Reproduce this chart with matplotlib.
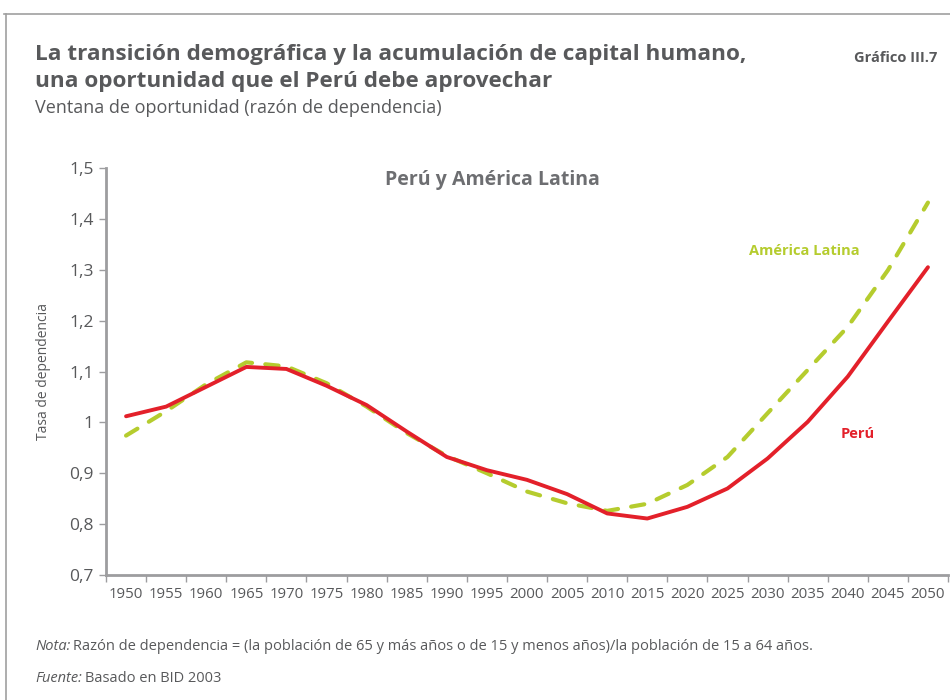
import matplotlib
matplotlib.use("Agg")
import matplotlib.pyplot as plt
from matplotlib.lines import Line2D
import numpy as np

years = [1950, 1955, 1960, 1965, 1970, 1975, 1980, 1985, 1990, 1995, 2000,
         2005, 2010, 2015, 2020, 2025, 2030, 2035, 2040, 2045, 2050]
peru = [1.012, 1.031, 1.070, 1.109, 1.105, 1.072, 1.034, 0.982, 0.932, 0.906, 0.887,
        0.859, 0.821, 0.811, 0.834, 0.870, 0.929, 1.001, 1.090, 1.198, 1.305]
america_latina = [0.974, 1.022, 1.075, 1.118, 1.110, 1.077, 1.031, 0.979, 0.934, 0.900, 0.864,
                  0.841, 0.826, 0.840, 0.877, 0.932, 1.018, 1.103, 1.188, 1.299, 1.432]
y_ticks = [0.7, 0.8, 0.9, 1.0, 1.1, 1.2, 1.3, 1.4, 1.5]
y_labels = ["0,7", "0,8", "0,9", "1", "1,1", "1,2", "1,3", "1,4", "1,5"]

plt.rcParams['font.family'] = ['Open Sans', 'DejaVu Sans']

GREY = '#58595b'
RED = '#e3202a'
GREEN = '#b5cc2e'
AXIS = '#9d9d9f'

fig = plt.figure(figsize=(9.5, 7), dpi=100)

# frame lines
fig.add_artist(Line2D([4/950, 1.0], [1-14/700, 1-14/700], transform=fig.transFigure, color='#a0a0a0', lw=1.2))
fig.add_artist(Line2D([6/950, 6/950], [0, 1-14/700], transform=fig.transFigure, color='#a0a0a0', lw=1.2))

fig.text(35/950, 1-60/700, "La transición demográfica y la acumulación de capital humano,",
         fontsize=16.2, fontweight='bold', color=GREY, va='baseline')
fig.text(35/950, 1-87/700, "una oportunidad que el Perú debe aprovechar",
         fontsize=16.2, fontweight='bold', color=GREY, va='baseline')
fig.text(35/950, 1-113/700, "Ventana de oportunidad (razón de dependencia)",
         fontsize=13, color=GREY, va='baseline')
fig.text(937/950, 1-62/700, "Gráfico III.7", fontsize=10.5, fontweight='bold', color=GREY,
         ha='right', va='baseline')

ax = fig.add_axes([106/950, 1-575/700, (948-106)/950, (575-168)/700])
x = np.arange(len(years))
ax.plot(x, peru, color=RED, lw=2.8, solid_capstyle='round', zorder=3)
ax.plot(x, america_latina, color=GREEN, lw=3.0, dashes=(3.2, 3.2), dash_capstyle='round', zorder=2)

ax.set_xlim(-0.5, len(years) - 0.5)
ax.set_ylim(0.7, 1.5)
ax.set_yticks(y_ticks)
ax.set_yticklabels(y_labels)
ax.set_xticks(x)
ax.set_xticklabels([str(y) for y in years])
ax.set_xticks(np.arange(-0.5, len(years)), minor=True)
ax.tick_params(axis='x', which='major', length=0, pad=9, labelsize=10.8, labelcolor=GREY)
ax.tick_params(axis='x', which='minor', length=5, width=1, color=AXIS, direction='out')
ax.tick_params(axis='y', length=5, width=1, color=AXIS, direction='out', labelsize=12.5,
               labelcolor=GREY, pad=4)
for s in ['top', 'right']:
    ax.spines[s].set_visible(False)
for s in ['left', 'bottom']:
    ax.spines[s].set_color(AXIS)
    ax.spines[s].set_linewidth(2)
ax.set_ylabel("Tasa de dependencia", fontsize=10, color=GREY, labelpad=13)

ax.text(492/950, 1-180/700, "Perú y América Latina", transform=fig.transFigure,
        fontsize=14, fontweight='bold', color='#6d6e71', ha='center', va='center')
ax.text(804/950, 1-251/700, "América Latina", transform=fig.transFigure,
        fontsize=10.5, fontweight='bold', color=GREEN, ha='center', va='center')
ax.text(858/950, 1-434/700, "Perú", transform=fig.transFigure,
        fontsize=10.5, fontweight='bold', color=RED, ha='center', va='center')

renderer = fig.canvas.get_renderer()

def note(y_px, head, body):
    t = fig.text(35/950, 1-y_px/700, head, fontsize=10.5, style='italic', color=GREY, va='baseline')
    bb = t.get_window_extent(renderer=renderer)
    fig.text((bb.x1 + 3)/950, 1-y_px/700, body, fontsize=10.5, color=GREY, va='baseline')

note(650, "Nota:", "Razón de dependencia = (la población de 65 y más años o de 15 y menos años)/la población de 15 a 64 años.")
note(682, "Fuente:", "Basado en BID 2003")

fig.savefig("out.png", dpi=100)
